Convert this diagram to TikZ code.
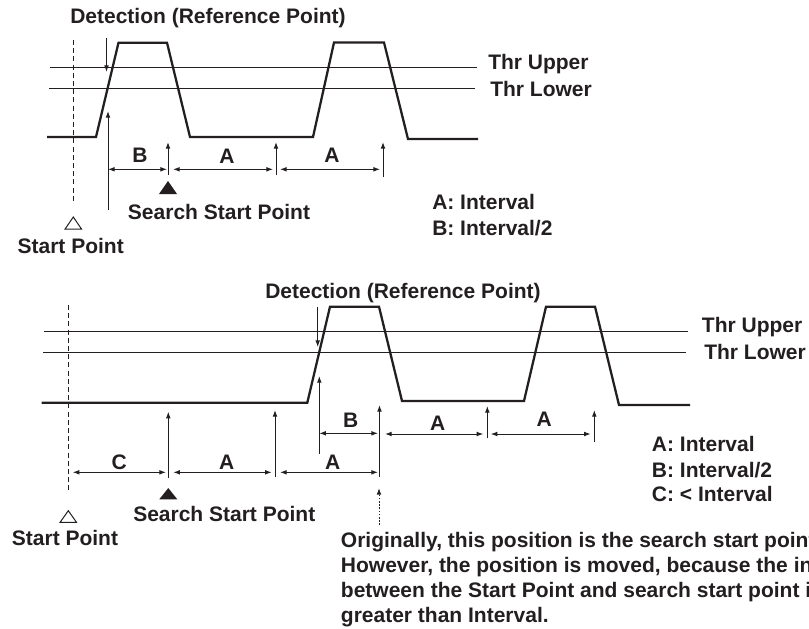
\documentclass[tikz,border=0pt]{standalone}
\usepackage{fontspec}
\setmainfont{Liberation Sans}
\usepackage{xcolor}
\definecolor{Ink}{RGB}{35, 31, 32}
\usetikzlibrary{arrows.meta}

\begin{document}
\begin{tikzpicture}[
    x=0.75pt, y=-0.75pt,
    label/.style={font=\bfseries\fontsize{15.75}{18.75}\selectfont, text=Ink, inner sep=0pt},
    thr/.style={line width=0.75pt, Ink},
    signal/.style={line width=1.7pt, Ink},
    span/.style={{Latex[length=5pt,width=3.6pt]}-{Latex[length=5pt,width=3.6pt]}, line width=0.75pt, Ink},
    marker/.style={-{Latex[length=5pt,width=3.6pt]}, line width=0.75pt, Ink},
    startline/.style={dash pattern=on 3.75pt off 2.4pt, line width=0.9pt, Ink},
    moved/.style={-{Latex[length=5pt,width=3.6pt]}, dash pattern=on 1.2pt off 1.2pt, line width=0.75pt, Ink}
]
\useasboundingbox (0,0) rectangle (809,628);

% ---------- Upper diagram ----------
% Threshold levels
\draw[thr] (50,67.3) -- (477,67.3);
\draw[thr] (49,88.3) -- (475,88.3);
\node[label, anchor=base west] (upThrU) at (488,69) {Thr Upper};
\node[label, anchor=base west] (upThrL) at (490,96) {Thr Lower};

% Signal
\draw[signal] (47,137) -- (96,137) -- (118.5,42.7) -- (167,42.7) -- (190,137)
    -- (313,137) -- (334,42.5) -- (384,42.5) -- (408,139) -- (478,139);

% Start point
\draw[startline] (73.5,40) -- (73.5,203);
\draw[Ink, line width=0.75pt] (73.3,217) -- (81.5,229) -- (65.1,229) -- cycle;
\node[label, anchor=base] (upStart) at (70.7,253) {Start Point};

% Detection
\node[label, anchor=base] (upDetect) at (208,23) {Detection (Reference Point)};
\draw[marker] (106.5,38) -- (106.5,72);
\draw[marker] (108,210) -- (108,111);

% Spans B, A, A
\draw[span] (108,169.3) -- (167,169.3);
\draw[span] (173,169.3) -- (273,169.3);
\draw[span] (280,169.3) -- (380,169.3);
\foreach \x/\yb in {168/175, 276/175, 383/177}
    \draw[marker] (\x,\yb) -- (\x,142);
\node[label, anchor=base] (upB) at (140,162) {B};
\node[label, anchor=base] (upA1) at (227,163.5) {A};
\node[label, anchor=base] (upA2) at (332,162.5) {A};

% Search start point
\fill[Ink] (168,181) -- (177,194) -- (159,194) -- cycle;
\node[label, anchor=base] (upSearch) at (219,219) {Search Start Point};

% Legend
\node[label, anchor=base west] (upLegA) at (432,209) {A: Interval};
\node[label, anchor=base west] (upLegB) at (432,235) {B: Interval/2};

% ---------- Lower diagram ----------
% Threshold levels
\draw[thr] (44,331.7) -- (688,331.7);
\draw[thr] (43,352.7) -- (686,352.7);
\node[label, anchor=base west] (loThrU) at (701.7,332) {Thr Upper};
\node[label, anchor=base west] (loThrL) at (704,359) {Thr Lower};

% Signal
\draw[signal] (41.7,402.7) -- (307.3,402.7) -- (330,306.7) -- (379,306.7) -- (402,401)
    -- (524,401) -- (546,306.7) -- (595,306.7) -- (619,405) -- (690,405);

% Start point
\draw[startline] (68.3,305) -- (68.3,493);
\draw[Ink, line width=0.75pt] (68.3,510.7) -- (76.5,522.3) -- (60.1,522.3) -- cycle;
\node[label, anchor=base] (loStart) at (65,545) {Start Point};

% Detection
\node[label, anchor=base] (loDetect) at (403,298) {Detection (Reference Point)};
\draw[marker] (317.7,306.7) -- (317.7,347);
\draw[marker] (319.3,454) -- (319.3,376);

% Spans B, A, A after detection
\draw[span] (319.3,433.3) -- (378,433.3);
\draw[span] (385,434) -- (483.3,434);
\draw[span] (490.7,434) -- (590.7,434);
\foreach \x/\yb/\yt in {379.5/477/405, 487.3/438.3/406, 594.3/441.7/410}
    \draw[marker] (\x,\yb) -- (\x,\yt);
\node[label, anchor=base] (loB) at (350.7,427.5) {B};
\node[label, anchor=base] (loA1) at (437.7,430) {A};
\node[label, anchor=base] (loA2) at (544.3,426.5) {A};

% Spans C, A, A from start point
\draw[span] (72.7,472.3) -- (166,472.3);
\draw[span] (173.3,472.3) -- (271.7,472.3);
\draw[span] (280,472.3) -- (378,472.3);
\foreach \x/\yb/\yt in {168.3/478/411.7, 275/477/410}
    \draw[marker] (\x,\yb) -- (\x,\yt);
\node[label, anchor=base] (loC) at (119.3,469.5) {C};
\node[label, anchor=base] (loA3) at (226.7,469.5) {A};
\node[label, anchor=base] (loA4) at (332.7,469) {A};

% Search start point
\fill[Ink] (168.3,488) -- (177.3,499.3) -- (159.3,499.3) -- cycle;
\node[label, anchor=base] (loSearch) at (224.3,521) {Search Start Point};

% Original search start point
\draw[moved] (379,525) -- (379,488);
\node[label, anchor=base west] (loNote1) at (340.7,547) {Originally, this position is the search start point.};
\node[label, anchor=base west] (loNote2) at (340.7,572) {However, the position is moved, because the interval};
\node[label, anchor=base west] (loNote3) at (340.7,597) {between the Start Point and search start point is};
\node[label, anchor=base west] (loNote4) at (340.7,622) {greater than Interval.};

% Legend
\node[label, anchor=base west] (loLegA) at (651.7,451) {A: Interval};
\node[label, anchor=base west] (loLegB) at (651.7,477) {B: Interval/2};
\node[label, anchor=base west] (loLegC) at (651.7,501.5) {C: < Interval};

\end{tikzpicture}
\end{document}
